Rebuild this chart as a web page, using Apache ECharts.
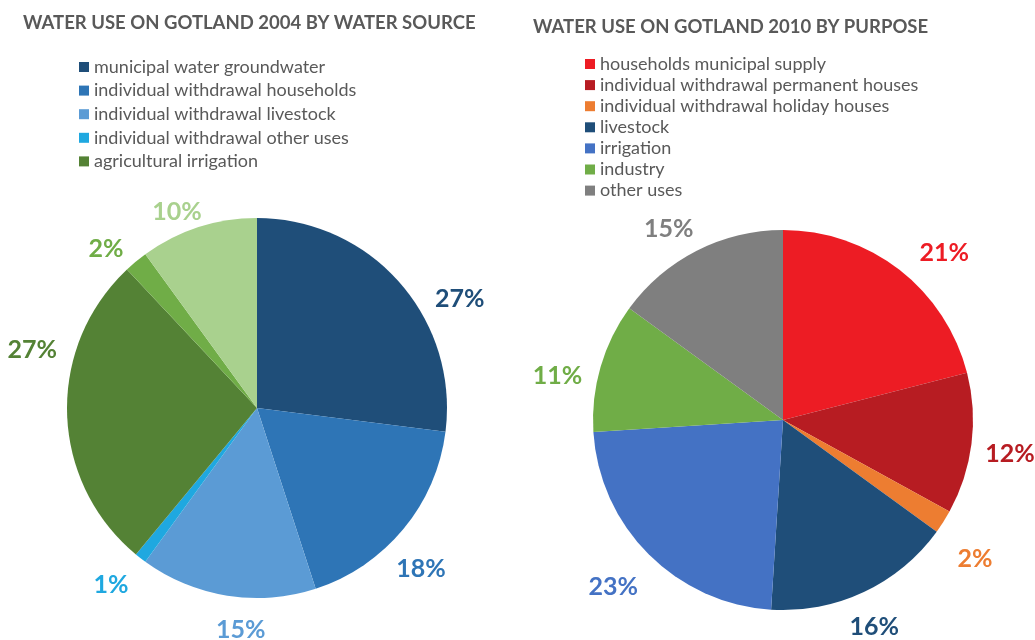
<!DOCTYPE html>
<html>
<head>
<meta charset="utf-8">
<script src="https://cdn.jsdelivr.net/npm/echarts@6/dist/echarts.min.js"></script>
<style>
  html, body { margin: 0; padding: 0; background: #fff; }
  #main { width: 1035px; height: 640px; }
</style>
</head>
<body>
<div id="main"></div>
<script>
// 2004 by water source (last two slices have no legend entry in the original)
const sourceNames = [
  'municipal water groundwater',
  'individual withdrawal households',
  'individual withdrawal livestock',
  'individual withdrawal other uses',
  'agricultural irrigation',
  'unlabelled (2%)',
  'unlabelled (10%)'
];
const sourceValues = [27, 18, 15, 1, 27, 2, 10];
const sourceColors = ['#1f4e79', '#2e75b6', '#5b9bd5', '#1fa8e0', '#548235', '#70ad47', '#a9d18e'];
const sourceLegend = sourceNames.slice(0, 5);

// 2010 by purpose
const purposeNames = [
  'households municipal supply',
  'individual withdrawal permanent houses',
  'individual withdrawal holiday houses',
  'livestock',
  'irrigation',
  'industry',
  'other uses'
];
const purposeValues = [21, 12, 2, 16, 23, 11, 15];
const purposeColors = ['#ed1c24', '#b71c22', '#ed7d31', '#1f4e79', '#4472c4', '#70ad47', '#7f7f7f'];

// nudges so the labels sit where the original placed them
const labelNudge = [
  [[13, 28], [-30, 28], [50, 16], [8, 13], [17, -65], [8, 1], [18, 2]],
  [[0, -3], [-13, 8], [-10, 27], [-31, 19], [11, 20], [8, 14], [14, -6]]
];

const FONT = 'Lato';
const GREY = '#595959';

function slices(names, values, colors) {
  return names.map((n, i) => ({
    name: n,
    value: values[i],
    itemStyle: { color: colors[i] },
    label: { color: colors[i] }
  }));
}

function pieSeries(center, data) {
  return {
    type: 'pie',
    center: center,
    radius: 190,
    startAngle: 90,
    clockwise: true,
    data: data,
    avoidLabelOverlap: false,
    label: {
      show: true,
      position: 'outside',
      formatter: '{c}%',
      fontFamily: FONT,
      fontWeight: 'bold',
      fontSize: 25,
      overflow: 'none',
      edgeDistance: 0
    },
    labelLine: { show: false, length: 18, length2: 4 },
    labelLayout: function (p) {
      const n = labelNudge[p.seriesIndex][p.dataIndex];
      return { dx: n[0], dy: n[1] };
    },
    emphasis: { disabled: true }
  };
}

function legend(left, top, gap, names) {
  return {
    orient: 'vertical',
    left: left,
    top: top,
    data: names,
    icon: 'rect',
    itemWidth: 10,
    itemHeight: 10,
    itemGap: gap,
    selectedMode: false,
    textStyle: { fontFamily: FONT, fontSize: 18, lineHeight: 18, color: GREY }
  };
}

const chart = echarts.init(document.getElementById('main'));
chart.setOption({
  animation: false,
  backgroundColor: '#fff',
  title: [
    {
      text: 'WATER USE ON GOTLAND 2004 BY WATER SOURCE',
      left: 18, top: 9,
      textStyle: { fontFamily: FONT, fontWeight: 'bold', fontSize: 18.5, color: GREY }
    },
    {
      text: 'WATER USE ON GOTLAND 2010 BY PURPOSE',
      left: 528, top: 13,
      textStyle: { fontFamily: FONT, fontWeight: 'bold', fontSize: 18.5, color: GREY }
    }
  ],
  legend: [
    legend(74, 53, 5.6, sourceLegend),
    legend(580, 50, 3.1, purposeNames)
  ],
  series: [
    pieSeries([257, 408], slices(sourceNames, sourceValues, sourceColors)),
    pieSeries([783, 420], slices(purposeNames, purposeValues, purposeColors))
  ]
});
</script>
</body>
</html>
